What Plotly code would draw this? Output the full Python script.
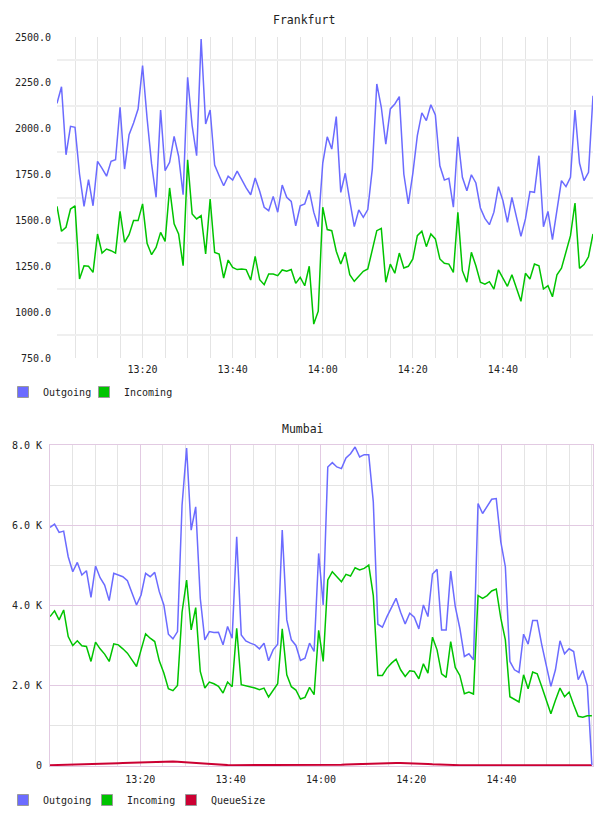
import plotly.graph_objects as go
import pandas as pd

# ---------------- data ----------------
fra_times = pd.date_range("2024-01-01 13:01", periods=120, freq="min")
fra_outgoing = [
    2138, 2229, 1858, 2013, 2008, 1753, 1577, 1722, 1580, 1822,
    1784, 1741, 1822, 1831, 2117, 1780, 1967, 2031, 2107, 2344,
    2057, 1808, 1626, 2102, 1771, 1817, 1958, 1850, 1640, 2280,
    2017, 1853, 2489, 2026, 2102, 1802, 1744, 1689, 1741, 1720,
    1769, 1722, 1677, 1640, 1731, 1659, 1572, 1553, 1631, 1545,
    1693, 1626, 1604, 1471, 1580, 1590, 1664, 1545, 1466, 1812,
    1956, 1889, 2066, 1653, 1757, 1608, 1466, 1557, 1517, 1559,
    1780, 2244, 2117, 1916, 2108, 2135, 2175, 1753, 1590, 1757,
    1962, 2086, 2044, 2131, 2075, 1798, 1720, 1730, 1572, 1956,
    1735, 1662, 1749, 1704, 1568, 1511, 1477, 1545, 1684, 1608,
    1490, 1626, 1517, 1413, 1508, 1657, 1653, 1853, 1466, 1549,
    1395, 1553, 1717, 1684, 1735, 2102, 1813, 1717, 1762, 2180,
]
fra_incoming = [
    1577, 1441, 1463, 1562, 1580, 1181, 1253, 1250, 1217, 1426,
    1322, 1344, 1335, 1322, 1549, 1381, 1422, 1499, 1499, 1590,
    1375, 1313, 1353, 1435, 1386, 1677, 1481, 1426, 1253, 1830,
    1535, 1508, 1526, 1317, 1617, 1326, 1317, 1186, 1284, 1244,
    1232, 1235, 1232, 1175, 1304, 1177, 1150, 1208, 1208, 1199,
    1230, 1223, 1232, 1157, 1190, 1144, 1250, 935, 1005, 1572,
    1450, 1444, 1332, 1262, 1326, 1204, 1168, 1195, 1223, 1235,
    1344, 1444, 1457, 1163, 1262, 1212, 1322, 1241, 1250, 1290,
    1417, 1441, 1357, 1426, 1399, 1290, 1266, 1262, 1217, 1544,
    1226, 1163, 1326, 1253, 1163, 1153, 1166, 1126, 1230, 1184,
    1141, 1204, 1130, 1059, 1212, 1181, 1262, 1253, 1126, 1144,
    1084, 1204, 1239, 1326, 1417, 1595, 1239, 1259, 1302, 1426,
]

mum_times = pd.date_range("2024-01-01 13:00", "2024-01-01 15:00", periods=120)
mum_outgoing = [
    5939, 6023, 5815, 5848, 5208, 4834, 5067, 4751, 4859, 4195,
    4975, 4685, 4502, 4112, 4793, 4751, 4710, 4610, 4295, 4004,
    4253, 4793, 4710, 4818, 4336, 4004, 3273, 3157, 3339, 6496,
    7925, 5873, 6455, 4170, 3132, 3339, 3314, 3323, 3007, 3464,
    3173, 5707, 3256, 3107, 3049, 3007, 2908, 3049, 2608, 2882,
    3024, 5873, 3630, 3132, 2991, 2617, 2675, 3049, 2841, 5291,
    4004, 7451, 7559, 7451, 7410, 7675, 7783, 7949, 7700, 7758,
    7758, 6579, 3522, 3447, 3713, 3962, 4170, 3821, 3530, 3796,
    3696, 3406, 4004, 3713, 4776, 4893, 3381, 3381, 4851, 3962,
    3422, 2716, 2783, 2633, 6537, 6288, 6479, 6645, 6662, 5582,
    4959, 2592, 2384, 2318, 3273, 3024, 3613, 3613, 3007, 2509,
    1969, 2384, 3107, 2783, 2908, 2841, 2135, 2367, 1985, 0,
]
mum_incoming = [
    3713, 3855, 3630, 3879, 3215, 2991, 3107, 2983, 2965, 2592,
    3074, 2908, 2775, 2592, 3032, 3007, 2908, 2800, 2633, 2467,
    2882, 3281, 3173, 3090, 2608, 2301, 1911, 1861, 1994, 3821,
    4627, 3381, 3937, 2342, 1927, 2077, 2035, 1969, 1803, 2077,
    1961, 3422, 2011, 1986, 1944, 1927, 1886, 1927, 1703, 1878,
    2035, 3406, 2259, 1961, 1878, 1653, 1695, 1944, 1761, 3370,
    2592, 4627, 4834, 4710, 4585, 4768, 4726, 4934, 4876, 4917,
    5000, 4237, 2243, 2243, 2426, 2550, 2650, 2384, 2218, 2359,
    2342, 2160, 2533, 2301, 3198, 2882, 2284, 2193, 3090, 2442,
    2243, 1786, 1828, 1778, 4237, 4170, 4237, 4353, 4403, 3672,
    3132, 1711, 1636, 1579, 2259, 1911, 2326, 2284, 1961, 1620,
    1288, 1620, 1927, 1711, 1828, 1512, 1221, 1196, 1237, 1237,
]
mum_queue = [
    0, 2, 5, 8, 11, 15, 18, 21, 24, 27,
    31, 34, 37, 41, 44, 48, 52, 56, 61, 66,
    72, 78, 85, 91, 96, 100, 98, 92, 84, 75,
    66, 57, 48, 40, 32, 25, 18, 12, 7, 3,
    0, 0, 0, 0, 0, 0, 0, 0, 0, 0,
    0, 0, 0, 0, 0, 0, 0, 0, 0, 0,
    0, 2, 5, 9, 14, 19, 24, 29, 34, 38,
    42, 46, 50, 53, 55, 57, 58, 58, 56, 53,
    49, 44, 38, 32, 25, 18, 12, 7, 3, 1,
    0, 0, 0, 0, 0, 0, 0, 0, 0, 0,
    0, 0, 0, 0, 0, 0, 0, 0, 0, 0,
    0, 0, 0, 0, 0, 0, 0, 0, 0, 0,
]

x_tick_vals = ["2024-01-01 13:20", "2024-01-01 13:40", "2024-01-01 14:00",
               "2024-01-01 14:20", "2024-01-01 14:40"]
x_tick_text = ["13:20", "13:40", "14:00", "14:20", "14:40"]
fra_y_ticks = [750, 1000, 1250, 1500, 1750, 2000, 2250, 2500]
fra_y_text = ["750.0", "1000.0", "1250.0", "1500.0", "1750.0", "2000.0", "2250.0", "2500.0"]
mum_y_ticks = [0, 2000, 4000, 6000, 8000]
mum_y_text = ["0", "2.0 K", "4.0 K", "6.0 K", "8.0 K"]
mum_y_minor = [1000, 3000, 5000, 7000]

# ---------------- style ----------------
W, H = 608, 816
C_OUT = "#6b6bff"
C_IN = "#00c400"
C_Q = "#cc0033"
MONO = "DejaVu Sans Mono"
TXT = "#222222"
GRID = "#e4e4e4"
LAV = "#e2cae2"

fra_grid = [(a + b) / 2 for a, b in zip(fra_y_ticks, fra_y_ticks[1:])]

fig = go.Figure()

# Frankfurt
fig.add_trace(go.Scatter(x=fra_times, y=fra_outgoing, mode="lines",
                         line=dict(color=C_OUT, width=1.5), showlegend=False,
                         xaxis="x", yaxis="y"))
fig.add_trace(go.Scatter(x=fra_times, y=fra_incoming, mode="lines",
                         line=dict(color=C_IN, width=1.5), showlegend=False,
                         xaxis="x", yaxis="y"))
# Mumbai
fig.add_trace(go.Scatter(x=mum_times, y=mum_queue, mode="lines",
                         line=dict(color=C_Q, width=2), showlegend=False,
                         xaxis="x2", yaxis="y2"))
fig.add_trace(go.Scatter(x=mum_times, y=mum_outgoing, mode="lines",
                         line=dict(color=C_OUT, width=1.5), showlegend=False,
                         xaxis="x2", yaxis="y2"))
fig.add_trace(go.Scatter(x=mum_times, y=mum_incoming, mode="lines",
                         line=dict(color=C_IN, width=1.5), showlegend=False,
                         xaxis="x2", yaxis="y2"))

# legend entries (square swatches)
def swatch(name, color, legend, xa, ya, border="#9a9a9a", bw=1):
    return go.Scatter(x=[None], y=[None], mode="markers", name=name,
                      marker=dict(symbol="square", size=11, color=color,
                                  line=dict(color=border, width=bw)),
                      legend=legend, xaxis=xa, yaxis=ya, hoverinfo="skip")

CLEAR = "rgba(0,0,0,0)"
fig.add_trace(swatch("Outgoing", C_OUT, "legend", "x", "y"))
fig.add_trace(swatch("Incoming", C_IN, "legend", "x", "y"))
fig.add_trace(swatch(" ", CLEAR, "legend", "x", "y", border=CLEAR, bw=0))
fig.add_trace(swatch("Outgoing", C_OUT, "legend2", "x2", "y2"))
fig.add_trace(swatch("Incoming", C_IN, "legend2", "x2", "y2"))
fig.add_trace(swatch("QueueSize", C_Q, "legend2", "x2", "y2"))
fig.add_trace(swatch(" ", CLEAR, "legend2", "x2", "y2", border=CLEAR, bw=0))

tickfont = dict(family=MONO, size=10, color=TXT)

xcommon = dict(type="date", tickmode="array", tickvals=x_tick_vals, ticktext=x_tick_text,
               ticks="", tickfont=tickfont, zeroline=False, automargin=False,
               ticklabelstandoff=4)
legend_common = dict(orientation="h", xref="paper", yref="paper",
                     xanchor="left", yanchor="middle",
                     font=dict(family=MONO, size=10, color=TXT),
                     bgcolor="rgba(0,0,0,0)", itemwidth=30, tracegroupgap=0,
                     entrywidthmode="pixels")
fig.update_layout(
    width=W, height=H, template="none",
    margin=dict(l=0, r=0, t=0, b=0, autoexpand=False),
    paper_bgcolor="white", plot_bgcolor="white",
    xaxis=dict(xcommon, domain=[57 / W, 593 / W], anchor="y",
               range=["2024-01-01 13:01", "2024-01-01 15:00"],
               showgrid=True, gridcolor=GRID, gridwidth=1,
               minor=dict(tick0="2024-01-01 13:00", dtick=300000, showgrid=True,
                          gridcolor=GRID, gridwidth=1, ticks=""),
               showline=False),
    yaxis=dict(domain=[1 - 358 / H, 1 - 37 / H], anchor="x", range=[750, 2500],
               tickmode="array", tickvals=fra_y_ticks, ticktext=fra_y_text,
               ticks="", tickfont=tickfont, showgrid=False, zeroline=False,
               automargin=False, ticklabelstandoff=5, showline=False,
               minor=dict(tickmode="array", tickvals=fra_grid, showgrid=True,
                          gridcolor="#efefef", gridwidth=2, ticks="")),
    xaxis2=dict(xcommon, domain=[50 / W, 593 / W], anchor="y2",
                range=["2024-01-01 13:00", "2024-01-01 15:00:15"],
                showgrid=True, gridcolor=LAV, gridwidth=1,
                minor=dict(tick0="2024-01-01 13:00", dtick=300000, showgrid=True,
                           gridcolor=GRID, gridwidth=1, ticks=""),
                showline=True, mirror=True, linecolor=LAV, linewidth=1),
    yaxis2=dict(domain=[1 - 766 / H, 1 - 445 / H], anchor="x2", range=[-20, 8000],
                tickmode="array", tickvals=mum_y_ticks, ticktext=mum_y_text,
                ticks="", tickfont=tickfont, showgrid=True, gridcolor=LAV, gridwidth=1.2,
                zeroline=False, automargin=False, ticklabelstandoff=5,
                showline=True, mirror=True, linecolor=LAV, linewidth=1,
                minor=dict(tickmode="array", tickvals=mum_y_minor, showgrid=True,
                           gridcolor=GRID, gridwidth=1, ticks="")),
    legend=dict(legend_common, x=3 / W, y=1 - 392 / H, entrywidth=36),
    legend2=dict(legend_common, x=3 / W, y=1 - 800 / H, entrywidth=39),
    annotations=[
        dict(text="Frankfurt", x=304 / W, y=1 - 20 / H, xref="paper", yref="paper",
             xanchor="center", yanchor="middle", showarrow=False,
             font=dict(family=MONO, size=11.5, color=TXT)),
        dict(text="Mumbai", x=303 / W, y=1 - 429 / H, xref="paper", yref="paper",
             xanchor="center", yanchor="middle", showarrow=False,
             font=dict(family=MONO, size=11.5, color=TXT)),
    ],
)

fig.write_html("out.html")
